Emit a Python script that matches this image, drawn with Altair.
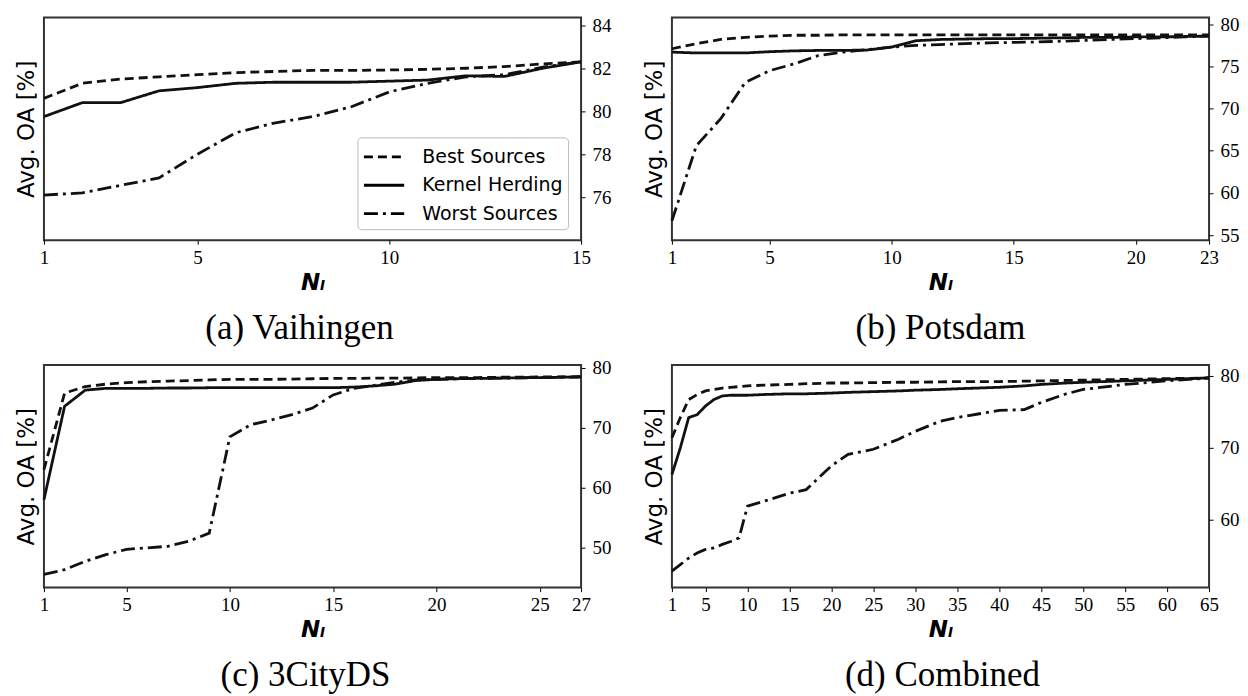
import altair as alt
import pandas as pd

SERIES = ["Best Sources", "Kernel Herding", "Worst Sources"]
DASHES = [[9, 5], [1, 0], [14, 5, 3, 5]]

# (a) Vaihingen
a_n = list(range(1, 16))
a_best = [80.6, 81.3, 81.5, 81.6, 81.7, 81.8, 81.85, 81.9, 81.9, 81.92, 81.95, 82.0, 82.08, 82.2, 82.3]
a_kh = [79.75, 80.4, 80.4, 80.95, 81.1, 81.3, 81.35, 81.35, 81.35, 81.4, 81.45, 81.65, 81.62, 82.0, 82.3]
a_worst = [76.1, 76.2, 76.55, 76.9, 78.0, 79.0, 79.45, 79.75, 80.2, 80.9, 81.3, 81.6, 81.7, 82.05, 82.3]

# (b) Potsdam
b_n = list(range(1, 24))
b_best = [77.1, 77.7, 78.2, 78.45, 78.6, 78.7, 78.7, 78.75, 78.75, 78.75, 78.75, 78.75, 78.75,
          78.75, 78.75, 78.75, 78.75, 78.75, 78.75, 78.75, 78.75, 78.75, 78.75]
b_kh = [76.7, 76.6, 76.6, 76.6, 76.75, 76.85, 76.9, 76.9, 76.95, 77.3, 78.05, 78.2, 78.25,
        78.3, 78.3, 78.35, 78.4, 78.45, 78.45, 78.5, 78.5, 78.55, 78.6]
b_worst = [56.7, 65.6, 68.8, 73.1, 74.5, 75.3, 76.3, 76.7, 77.0, 77.3, 77.5, 77.6, 77.7,
           77.8, 77.85, 77.9, 78.0, 78.1, 78.2, 78.3, 78.4, 78.5, 78.6]

# (c) 3CityDS
c_n = list(range(1, 28))
c_best = [63.0, 75.8, 76.9, 77.3, 77.55, 77.7, 77.8, 77.9, 78.0, 78.1, 78.1, 78.1, 78.15, 78.2,
          78.25, 78.25, 78.3, 78.3, 78.35, 78.4, 78.4, 78.4, 78.45, 78.45, 78.5, 78.5, 78.55]
c_kh = [58.0, 73.6, 76.3, 76.6, 76.6, 76.6, 76.65, 76.65, 76.7, 76.7, 76.7, 76.7, 76.7, 76.7,
        76.7, 76.8, 77.0, 77.3, 77.9, 78.1, 78.2, 78.25, 78.3, 78.35, 78.4, 78.45, 78.5]
c_worst = [45.5, 46.3, 47.7, 48.8, 49.7, 49.95, 50.2, 51.05, 52.4, 68.5, 70.5, 71.3, 72.2, 73.3,
           75.5, 76.6, 77.1, 77.6, 78.0, 78.1, 78.2, 78.25, 78.3, 78.35, 78.4, 78.45, 78.5]

# (d) Combined
d_n = [1, 2, 3, 4, 5, 6, 7, 8, 9, 10, 12, 15, 17, 20, 22, 25, 28, 30, 33, 35, 40, 43, 45, 48, 50, 55, 60, 65]
d_best = [71.4, 74.2, 76.7, 77.4, 77.9, 78.1, 78.3, 78.4, 78.5, 78.6, 78.7, 78.8, 78.9, 79.0,
          79.0, 79.05, 79.1, 79.1, 79.15, 79.2, 79.2, 79.25, 79.3, 79.35, 79.4, 79.5, 79.6, 79.7]
d_kh = [66.3, 70.0, 74.2, 74.6, 75.8, 76.7, 77.2, 77.3, 77.3, 77.3, 77.4, 77.5, 77.5, 77.6,
        77.7, 77.8, 77.9, 78.0, 78.1, 78.2, 78.4, 78.6, 78.8, 79.0, 79.1, 79.3, 79.5, 79.7]
d_worst = [52.9, 53.8, 54.7, 55.4, 55.9, 56.1, 56.6, 57.0, 57.5, 61.9, 62.6, 63.7, 64.2, 67.5,
           69.1, 69.8, 71.2, 72.3, 73.7, 74.2, 75.2, 75.3, 76.3, 77.5, 78.1, 78.8, 79.3, 79.7]

CAPTIONS = ["(a) Vaihingen", "(b) Potsdam", "(c) 3CityDS", "(d) Combined"]
X_TICKS = [[1, 5, 10, 15], [1, 5, 10, 15, 20, 23], [1, 5, 10, 15, 20, 25, 27],
           [1, 5, 10, 15, 20, 25, 30, 35, 40, 45, 50, 55, 60, 65]]
Y_TICKS = [[76, 78, 80, 82, 84], [55, 60, 65, 70, 75, 80], [50, 60, 70, 80], [60, 70, 80]]
X_DOMAINS = [[1, 15], [1, 23], [1, 27], [1, 65]]
Y_DOMAINS = [[74.0, 84.36], [54.4, 80.8], [43.3, 80.5], [50.6, 81.5]]

W, H = 538, 223


def long_df(n, best, kh, worst):
    rows = []
    for name, vals in zip(SERIES, [best, kh, worst]):
        for x, v in zip(n, vals):
            rows.append({"N": x, "OA": v, "series": name})
    return pd.DataFrame(rows)


def panel(df, i, cap_x, show_legend=False):
    if show_legend:
        leg = alt.Legend(
            orient="none", legendX=314, legendY=120, title=None,
            symbolType="M-1,0L2.1,0", symbolSize=676, symbolStrokeWidth=2.8,
            symbolStrokeColor="black", symbolFillColor="transparent",
            labelFont="DejaVu Sans", labelFontSize=19, labelColor="black",
            labelOffset=31, padding=5, rowPadding=3.5,
            strokeColor="#bbbbbb", fillColor="white", cornerRadius=4,
        )
    else:
        leg = None
    lines = alt.Chart(df).mark_line(strokeWidth=2.8, color="#111111").encode(
        x=alt.X("N:Q",
                scale=alt.Scale(domain=X_DOMAINS[i], nice=False, zero=False),
                axis=alt.Axis(values=X_TICKS[i], title="Nₗ", labelFlush=False,
                              labelOverlap=False, tickSize=4, labelPadding=4,
                              titleFont="DejaVu Sans", titleFontSize=23,
                              titleFontStyle="italic", titleFontWeight="bold",
                              titlePadding=4)),
        y=alt.Y("OA:Q",
                scale=alt.Scale(domain=Y_DOMAINS[i], nice=False, zero=False),
                axis=alt.Axis(orient="right", values=Y_TICKS[i], title="Avg. OA [%]",
                              labelFlush=False, labelOverlap=False, tickSize=4,
                              labelPadding=7, titleAngle=270, titleX=-(W + 17),
                              titleY=H / 2, titleAlign="center", titleBaseline="middle",
                              titleFont="DejaVu Sans", titleFontSize=23,
                              titleFontWeight="normal")),
        strokeDash=alt.StrokeDash("series:N",
                                  scale=alt.Scale(domain=SERIES, range=DASHES),
                                  legend=leg),
    )
    cap = alt.Chart(pd.DataFrame({"t": [CAPTIONS[i]]})).mark_text(
        font="Liberation Serif", fontSize=35, align="center", baseline="alphabetic",
        color="black"
    ).encode(text="t:N", x=alt.value(cap_x), y=alt.value(H + 99))
    return alt.layer(lines, cap).properties(width=W, height=H)


pa = panel(long_df(a_n, a_best, a_kh, a_worst), 0, 256, show_legend=True)
pb = panel(long_df(b_n, b_best, b_kh, b_worst), 1, 269)
pc = panel(long_df(c_n, c_best, c_kh, c_worst), 2, 262)
pd_ = panel(long_df(d_n, d_best, d_kh, d_worst), 3, 271)

chart = alt.concat(pa, pb, pc, pd_, columns=2, spacing={"row": 10, "column": 31}).resolve_scale(
    strokeDash="independent"
).properties(
    padding={"left": 7, "top": 5, "right": 0, "bottom": 0},
    background="white",
).configure_view(
    stroke="#333333", strokeWidth=2
).configure_axis(
    grid=False, domain=False, labelFont="Liberation Serif", labelFontSize=19,
    labelColor="black", tickColor="black", titleColor="black"
)

chart.save("out.html", embed_options={"renderer": "svg", "actions": False})
